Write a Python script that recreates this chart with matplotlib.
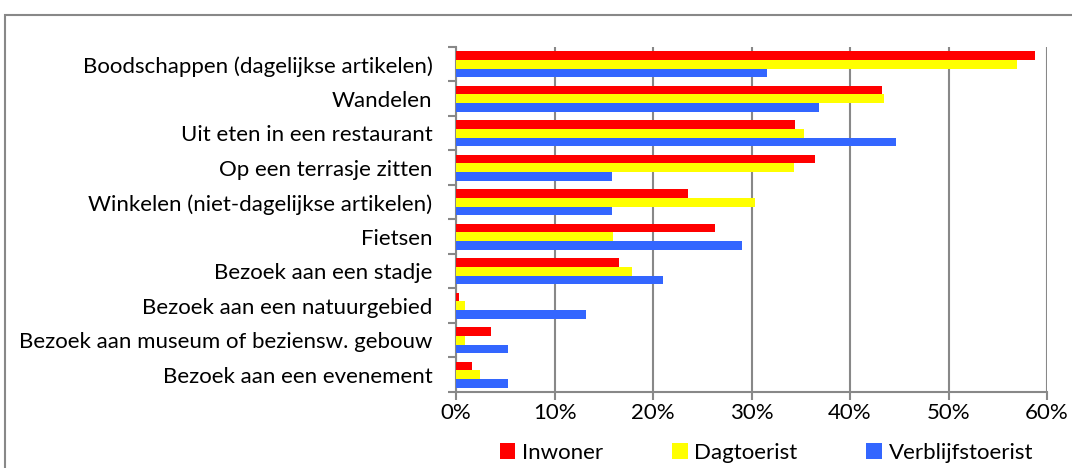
import numpy as np
import matplotlib.pyplot as plt
from matplotlib.patches import Rectangle
from matplotlib.ticker import FuncFormatter

plt.rcParams['font.family'] = ['Lato', 'DejaVu Sans']

categorieen = ["Boodschappen (dagelijkse artikelen)", "Wandelen", "Uit eten in een restaurant",
               "Op een terrasje zitten", "Winkelen (niet-dagelijkse artikelen)", "Fietsen",
               "Bezoek aan een stadje", "Bezoek aan een natuurgebied",
               "Bezoek aan museum of beziensw. gebouw", "Bezoek aan een evenement"]
inwoner = [58.8, 43.2, 34.4, 36.4, 23.5, 26.3, 16.5, 0.3, 3.5, 1.6]
dagtoerist = [57.0, 43.5, 35.3, 34.3, 30.4, 15.9, 17.9, 0.95, 0.95, 2.4]
verblijfstoerist = [31.6, 36.9, 44.7, 15.8, 15.8, 29.0, 21.0, 13.2, 5.3, 5.3]

series = ["Inwoner", "Dagtoerist", "Verblijfstoerist"]
kleuren = ["#ff0000", "#ffff00", "#3366ff"]

fig = plt.figure(figsize=(10.72, 4.68), dpi=100)
ax = fig.add_axes([0.4254, 0.1624, 0.5513, 0.7372])

y = np.arange(len(categorieen))
h = 0.25
for k, (vals, kleur, naam) in enumerate(zip([inwoner, dagtoerist, verblijfstoerist], kleuren, series)):
    ax.barh(y + (k - 1) * h, vals, height=h, color=kleur, label=naam, zorder=3)

ax.set_xlim(0, 60)
ax.set_ylim(len(categorieen) - 0.5, -0.5)
ax.set_xticks(np.arange(0, 61, 10))
ax.xaxis.set_major_formatter(FuncFormatter(lambda v, p: f"{int(v)}%"))
ax.set_yticks(y)
ax.set_yticklabels(categorieen)
ax.set_yticks(np.arange(-0.5, len(categorieen)), minor=True)
ax.tick_params(axis='y', which='major', length=0, pad=17, labelsize=16)
ax.tick_params(axis='y', which='minor', length=6, width=1.5, color='#888888')
ax.tick_params(axis='x', length=6, width=1.5, color='#888888', labelsize=16, pad=2)
ax.grid(axis='x', color='#888888', linewidth=1.5, zorder=0)
for s in ['top', 'right']:
    ax.spines[s].set_visible(False)
for s in ['left', 'bottom']:
    ax.spines[s].set_color('#888888')
    ax.spines[s].set_linewidth(1.5)

fig.legend(loc='lower center', bbox_to_anchor=(0.715, -0.032), ncol=3, frameon=False,
           fontsize=16, handlelength=0.7, handleheight=0.7, handletextpad=0.3,
           columnspacing=3.1)

# kader om de grafiek
fig.patches.append(Rectangle((5 / 1072, -0.2), 1.2, 1.2 - 15 / 468, transform=fig.transFigure,
                             fill=False, edgecolor='#888888', linewidth=1.5))

fig.savefig("out.png", dpi=100)
